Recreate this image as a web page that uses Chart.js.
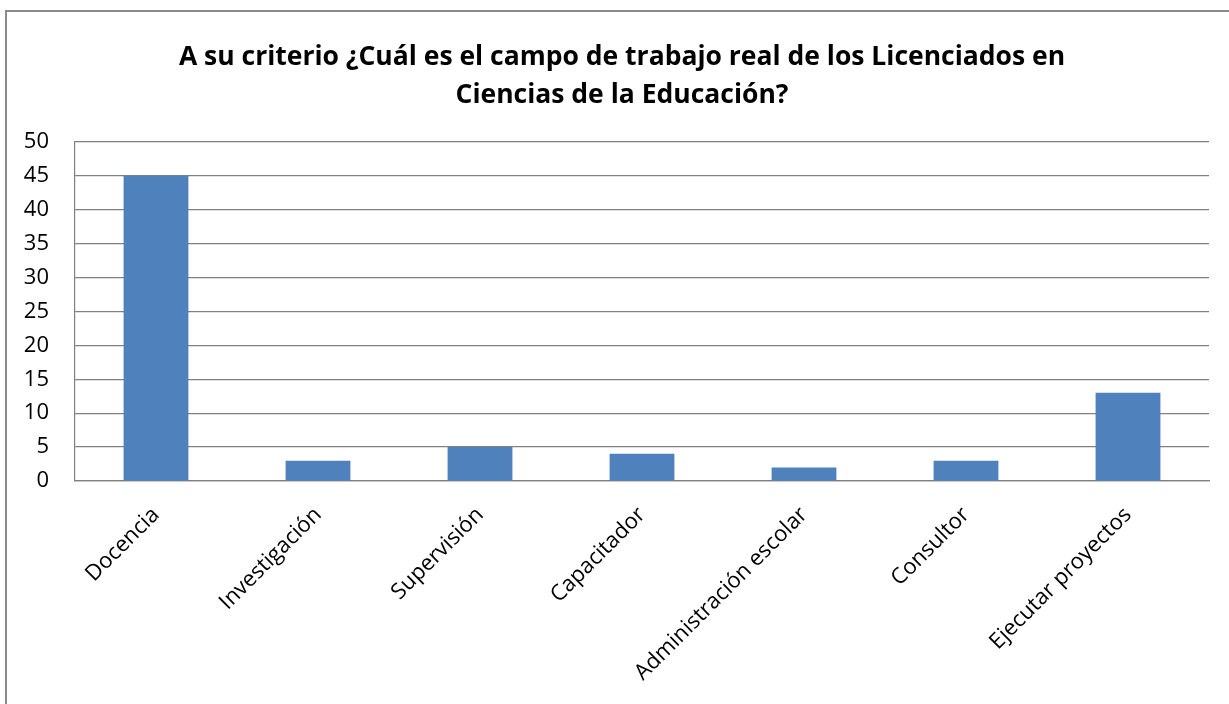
<!DOCTYPE html>
<html>
<head>
<meta charset="utf-8">
<script src="https://cdn.jsdelivr.net/npm/chart.js@4.4.1/dist/chart.umd.min.js"></script>
<style>
html,body{margin:0;padding:0;background:#fff;}
#wrap{position:relative;width:1229px;height:704px;}
#frame{position:absolute;left:5px;top:10px;width:1230px;height:700px;border-left:2px solid #8a8a8a;border-top:2px solid #8a8a8a;box-sizing:border-box;pointer-events:none;}
canvas{position:absolute;left:0;top:0;}
</style>
</head>
<body>
<div id="wrap">
<canvas id="c" width="1229" height="704"></canvas>
<div id="frame"></div>
</div>
<script>
const categories = ["Docencia","Investigación","Supervisión","Capacitador","Administración escolar","Consultor","Ejecutar proyectos"];
const values = [45, 3, 5, 4, 2, 3, 13];
const titleLines = ["A su criterio ¿Cuál es el campo de trabajo real de los Licenciados en","Ciencias de la Educación?"];
const yMin = 0, yMax = 50, yStep = 5;

const FONT = "'Open Sans', sans-serif";
new Chart(document.getElementById('c'), {
  type: 'bar',
  data: {
    labels: categories,
    datasets: [{
      data: values,
      backgroundColor: '#4F81BD',
      borderWidth: 0,
      categoryPercentage: 1.0,
      barPercentage: 0.4
    }]
  },
  options: {
    responsive: false,
    animation: false,
    devicePixelRatio: 1,
    layout: { padding: { left: 15, right: 0, top: 0, bottom: 0 } },
    plugins: {
      legend: { display: false },
      tooltip: { enabled: false },
      title: {
        display: true,
        text: titleLines,
        color: '#000',
        font: { family: FONT, size: 26.5, weight: 'bold', lineHeight: 1.45 },
        padding: { top: 38, bottom: 27 }
      }
    },
    scales: {
      y: {
        min: yMin, max: yMax,
        ticks: { stepSize: yStep, color: '#000', font: { family: FONT, size: 22 }, padding: 26 },
        grid: { color: '#808080', lineWidth: 1.2, drawTicks: false },
        border: { color: '#808080', width: 1.2 },
        afterFit: s => { s.width = 60; }
      },
      yRight: {
        type: 'linear',
        position: 'right',
        min: yMin, max: yMax,
        ticks: { display: false },
        grid: { display: false, drawTicks: false },
        border: { display: false },
        afterFit: s => { s.width = 20; }
      },
      x: {
        ticks: { color: '#000', font: { family: FONT, size: 22 }, maxRotation: 45, minRotation: 45, padding: 21, autoSkip: false },
        grid: { display: false, drawTicks: false },
        border: { color: '#808080', width: 1.2 },
        afterFit: s => { s.height = 223; }
      }
    }
  }
});
</script>
</body>
</html>
